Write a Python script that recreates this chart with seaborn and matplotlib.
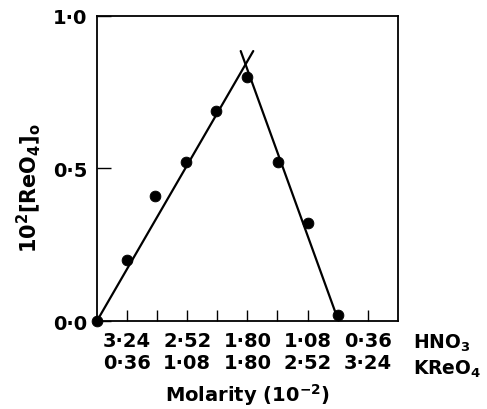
import matplotlib
matplotlib.use("Agg")
import matplotlib.pyplot as plt
import seaborn as sns
import pandas as pd

# Data (KReO4 molarity, 10^-2 M) and organic-phase perrhenate
kreo4 = [0.00, 0.36, 0.70, 1.07, 1.43, 1.79, 2.17, 2.52, 2.88]
reo4_org = [0.00, 0.20, 0.41, 0.52, 0.69, 0.80, 0.52, 0.32, 0.02]

# Fitted lines
left_x = [0.00, 1.87]
left_y = [0.00, 0.885]
right_x = [1.72, 2.89]
right_y = [0.885, 0.00]

tick_pos = [0.36, 1.08, 1.80, 2.52, 3.24]
hno3_labels = ["3·24", "2·52", "1·80", "1·08", "0·36"]
kreo4_labels = ["0·36", "1·08", "1·80", "2·52", "3·24"]
minor_pos = [0.36 * k for k in range(1, 10)]
y_ticks = [0.0, 0.5, 1.0]
y_labels = ["0·0", "0·5", "1·0"]

sns.set_style("ticks")
plt.rcParams['font.family'] = ['DejaVu Sans']
plt.rcParams['mathtext.default'] = 'regular'
plt.rcParams['text.color'] = 'black'
plt.rcParams['axes.labelcolor'] = 'black'
plt.rcParams['xtick.color'] = 'black'
plt.rcParams['ytick.color'] = 'black'

FS = 14
fig = plt.figure(figsize=(4.87, 4.10), dpi=100)
ax = fig.add_axes([0.199, 0.2146, 0.618, 0.744])

df = pd.DataFrame({"x": kreo4, "y": reo4_org})
sns.lineplot(x=left_x, y=left_y, ax=ax, color="black", lw=1.6)
sns.lineplot(x=right_x, y=right_y, ax=ax, color="black", lw=1.6)
sns.scatterplot(data=df, x="x", y="y", ax=ax, color="black", s=60,
                edgecolor="black", zorder=5, clip_on=False)

ax.set_xlim(0, 3.6)
ax.set_ylim(0, 1.0)

ax.set_xticks(minor_pos, minor=True)
ax.set_xticks(tick_pos)
ax.set_xticklabels([f"{a}\n{b}" for a, b in zip(hno3_labels, kreo4_labels)],
                   fontsize=FS, linespacing=1.25, fontweight="bold")
ax.set_yticks(y_ticks)
ax.set_yticklabels(y_labels, fontsize=FS, fontweight="bold")

ax.tick_params(axis="x", which="both", direction="in", length=8, width=1,
               pad=7, top=False)
ax.tick_params(axis="y", which="major", direction="in", length=10, width=1,
               pad=7, right=False)
for s in ax.spines.values():
    s.set_linewidth(1.3)
    s.set_color("black")

ax.text(3.78, -0.035, "HNO$_3$\nKReO$_4$", fontsize=13.5, ha="left", va="top",
        linespacing=1.3, fontweight="bold", clip_on=False)

ax.set_xlabel("Molarity (10$^{-2}$)", fontsize=FS, labelpad=6,
              fontweight="bold")
ax.set_ylabel("10$^2$[ReO$_4$]$_o$", fontsize=15, fontweight="bold")
ax.yaxis.set_label_coords(-0.18, 0.44)

fig.savefig("out.png", dpi=100)
